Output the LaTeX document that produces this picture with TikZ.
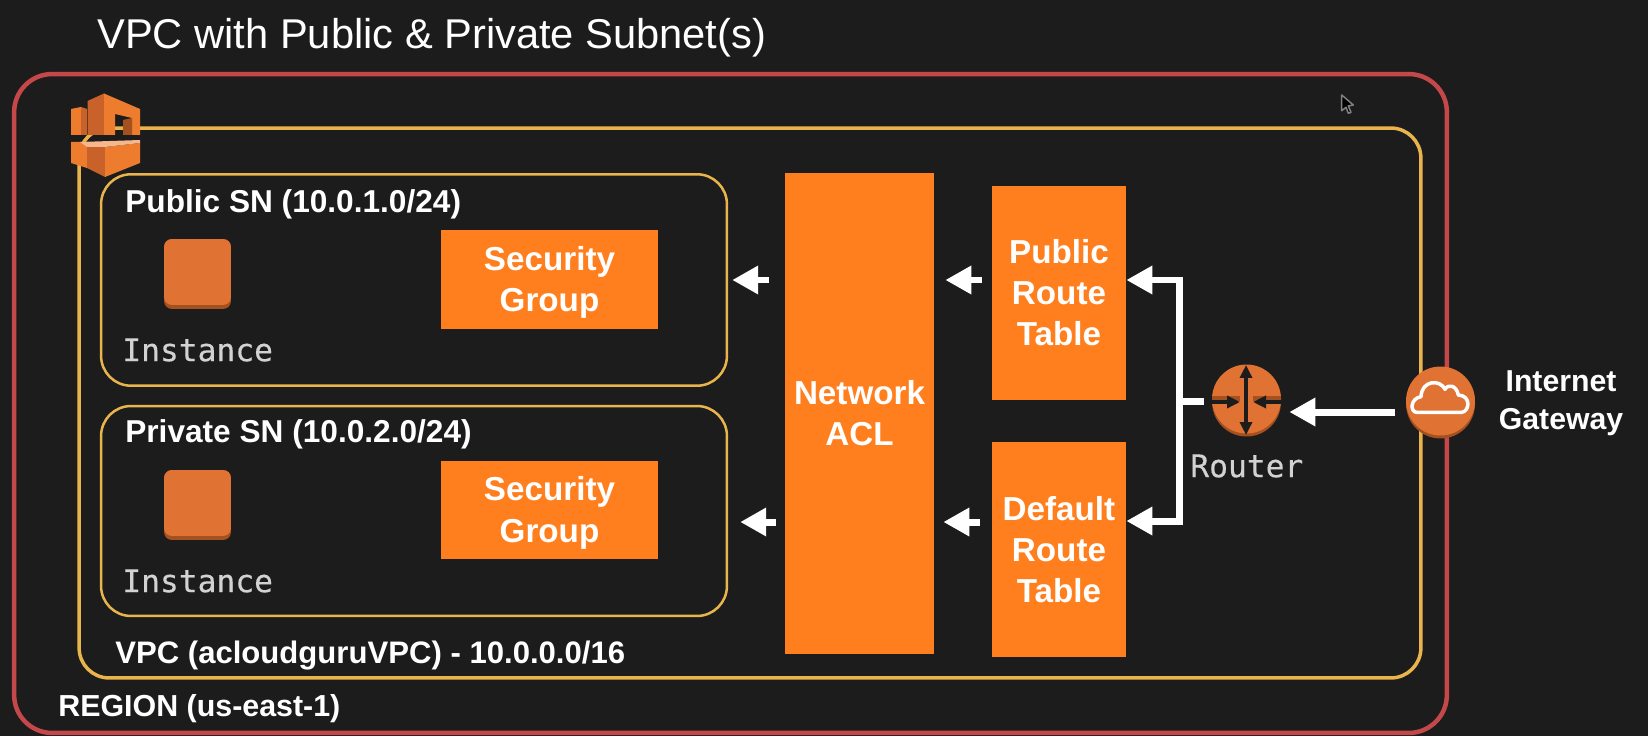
\documentclass[tikz,border=0pt]{standalone}
\usepackage{fontspec}
\setmainfont{Liberation Sans}
\setmonofont[FakeBold=0.3]{DejaVu Sans Mono}
\usetikzlibrary{arrows.meta}
\definecolor{bgdark}{HTML}{1C1C1C}
\definecolor{regionred}{HTML}{C4474A}
\definecolor{vpcyellow}{HTML}{E9B44C}
\definecolor{boxorange}{HTML}{FF7F1E}
\definecolor{iconorange}{HTML}{E07333}
\definecolor{iconlight}{HTML}{EE7C2E}
\definecolor{icondark}{HTML}{C8622A}
\definecolor{iconshade}{HTML}{A4501F}
\definecolor{labelgrey}{HTML}{D2D2D2}
\begin{document}
\begin{tikzpicture}[x=0.02cm, y=-0.02cm]
      \tikzstyle{REGION} = [draw=regionred, line width=.09cm, rectangle, rounded corners=.76cm, inner sep=0pt]
      \tikzstyle{VPC} = [draw=vpcyellow, line width=.07cm, rectangle, rounded corners=.6cm, inner sep=0pt]
      \tikzstyle{SUBNET} = [draw=vpcyellow, line width=.05cm, rectangle, minimum width=12.52cm, rounded corners=.6cm, inner sep=0pt]
      \tikzstyle{BOX} = [fill=boxorange, rectangle, inner sep=0pt, text=white, align=center, font=\bfseries\fontsize{18.9}{23.4}\selectfont]
      \tikzstyle{HEAD} = [text=white, anchor=west, inner sep=0pt, font=\bfseries\fontsize{18}{22}\selectfont]
      \tikzstyle{MONO} = [text=labelgrey, anchor=west, inner sep=0pt, font=\ttfamily\fontsize{17.8}{20}\selectfont]
      \tikzstyle{INST} = [fill=iconorange, rectangle, minimum width=1.34cm, minimum height=1.32cm, rounded corners=.16cm, inner sep=0pt]
      \tikzstyle{INSTBASE} = [fill=iconshade, rectangle, minimum width=1.34cm, minimum height=1.4cm, rounded corners=.16cm, inner sep=0pt]
      \tikzstyle{ROUND} = [fill=iconorange, circle, minimum size=1.38cm, inner sep=0pt]
      \tikzstyle{ROUNDBASE} = [fill=iconshade, circle, minimum size=1.38cm, inner sep=0pt]
      \tikzstyle{ARROW} = [draw=white, line width=.14cm, -{Triangle[length=.52cm, width=.54cm]}]
      \tikzstyle{ROUTERARROW} = [draw=bgdark, line width=.07cm, -{Triangle[length=.26cm, width=.24cm]}]

      \fill[bgdark] (0,0) rectangle (1648,736);

      %%%%% VERTEX

      \node[REGION, minimum width=28.66cm, minimum height=13.18cm](vregion) at (730.5,403.5) {};
      \node[VPC, minimum width=26.84cm, minimum height=11cm](vvpc) at (750,403) {};
      \node[SUBNET, minimum height=4.23cm](vpubsn) at (414,280) {};
      \node[SUBNET, minimum height=4.2cm](vprivsn) at (414,511) {};

      \node[text=white, anchor=west, inner sep=0pt, font=\fontsize{23.7}{28}\selectfont](vtitle) at (97,38) {VPC with Public \& Private Subnet(s)};
      \node[HEAD](vpublabel) at (125,204) {Public SN (10.0.1.0/24)};
      \node[HEAD](vprivlabel) at (125,434) {Private SN (10.0.2.0/24)};
      \node[HEAD, font=\bfseries\fontsize{17.7}{22}\selectfont](vvpclabel) at (115,656) {VPC (acloudguruVPC) - 10.0.0.0/16};
      \node[HEAD, font=\bfseries\fontsize{17.3}{22}\selectfont](vregionlabel) at (58,709) {REGION (us-east-1)};

      \node[INSTBASE](vbase1) at (197.5,274) {};
      \node[INST](vinst1) at (197.5,272) {};
      \node[MONO](vinstlabel1) at (122,350) {Instance};
      \node[INSTBASE](vbase2) at (197.5,505) {};
      \node[INST](vinst2) at (197.5,503) {};
      \node[MONO](vinstlabel2) at (122,581) {Instance};

      \node[BOX, minimum width=4.34cm, minimum height=1.98cm](vsg1) at (549.5,279.5) {\rule{0pt}{17pt}Security\\Group};
      \node[BOX, minimum width=4.34cm, minimum height=1.96cm](vsg2) at (549.5,510) {\rule{0pt}{17pt}Security\\Group};
      \node[BOX, minimum width=2.98cm, minimum height=9.62cm](vacl) at (859.5,413.5) {Network\\ACL};
      \node[BOX, minimum width=2.68cm, minimum height=4.28cm](vrtpub) at (1059,293) {Public\\Route\\Table};
      \node[BOX, minimum width=2.68cm, minimum height=4.3cm](vrtdef) at (1059,549.5) {Default\\Route\\Table};

      \node[ROUNDBASE](vrouterbase) at (1246.5,402) {};
      \node[ROUND](vrouter) at (1246.5,399) {};
      \node[MONO](vrouterlabel) at (1190,466) {Router};
      \node[ROUNDBASE](vigwbase) at (1440.5,404) {};
      \node[ROUND](vigw) at (1440.5,401) {};
      \node[HEAD, anchor=center, align=center, font=\bfseries\fontsize{17.2}{21.5}\selectfont](vigwlabel) at (1561,403.5) {Internet\\Gateway};

      \coordinate(vbus) at (1179,401);
      \coordinate(vbusup) at (1179,280);
      \coordinate(vbusdown) at (1179,521);
      \coordinate(vgwrow) at (1340,412);
      \coordinate(vprivrow) at (900,522);

      %%%%% ICONS

      % vpc icon, upper half
      \fill[iconlight] (71,109) -- (81,107) -- (81,135) -- (71,135) -- cycle;
      \fill[icondark] (81,107) -- (87,109) -- (87,135) -- (81,135) -- cycle;
      \fill[icondark] (87.5,101) -- (104,93.5) -- (104,135) -- (87.5,135) -- cycle;
      \fill[iconlight] (104,93.5) -- (140,109) -- (140,135) -- (132,135) -- (132,118) -- (115,114) -- (115,135) -- (104,135) -- cycle;
      \fill[iconshade] (123,120) -- (132,118) -- (132,135) -- (123,135) -- cycle;
      % vpc icon, lower half
      \fill[iconlight] (71,142) -- (87,142) -- (87,168) -- (71,163) -- cycle;
      \fill[icondark] (87,147) -- (105,147) -- (105,177) -- (87,168) -- cycle;
      \fill[iconlight] (105,147) -- (140,143) -- (140,163) -- (105,177) -- cycle;
      \fill[iconlight!55!white] (80,142) -- (140,140) -- (140,143) -- (105,147) -- (87,147) -- cycle;

      % router marks
      \fill[iconshade] (1212,396) rectangle (1240,401);
      \fill[iconshade] (1253,396) rectangle (1281,401);
      \draw[ROUTERARROW] (1212,402) -- (1240,402);
      \draw[ROUTERARROW] (1281,402) -- (1253,402);
      \draw[ROUTERARROW, {Triangle[length=.26cm, width=.24cm]}-{Triangle[length=.26cm, width=.24cm]}] (1246,365) -- (1246,435);

      % cloud
      \draw[white, line width=.07cm, line join=round] (1416.7,412.3) -- (1461.7,412.3)
        .. controls (1469.3,411.7) and (1471.7,395.7) .. (1458.3,395)
        .. controls (1456.7,385.7) and (1448.3,383.3) .. (1445,389.3)
        .. controls (1440,379) and (1421.7,380) .. (1421,396.7)
        .. controls (1410,398.3) and (1410,412.3) .. cycle;

      % pointer
      \draw[fill=black, draw=gray, line width=.03cm, line join=round] (1341.7,95) -- (1341.7,110.7) -- (1346,107.3) -- (1348.3,113.3) -- (1351,112.3) -- (1348.3,106) -- (1353.3,105) -- cycle;

      %%%%% EDGES

      \draw[ARROW, shorten <=.22cm, shorten >=.16cm]  (vigw.west |- vgwrow) -- (vrouter.east |- vgwrow);
      \draw[ARROW, shorten <=.16cm]  (vrouter.west |- vbus) -- (vbus) |- (vrtpub.east |- vbusup);
      \draw[ARROW]  (vbus) |- (vrtdef.east |- vbusdown);
      \draw[ARROW, shorten <=.2cm, shorten >=.22cm]  (vrtpub.west |- vpubsn.east) -- (vacl.east |- vpubsn.east);
      \draw[ARROW, shorten <=.32cm, shorten >=.08cm]  (vacl.west |- vpubsn.east) -- (vpubsn.east);
      \draw[ARROW, shorten <=.24cm, shorten >=.18cm]  (vrtdef.west |- vprivrow) -- (vacl.east |- vprivrow);
      \draw[ARROW, shorten <=.18cm, shorten >=.24cm]  (vacl.west |- vprivrow) -- (vprivsn.east |- vprivrow);
\end{tikzpicture}
\end{document}
